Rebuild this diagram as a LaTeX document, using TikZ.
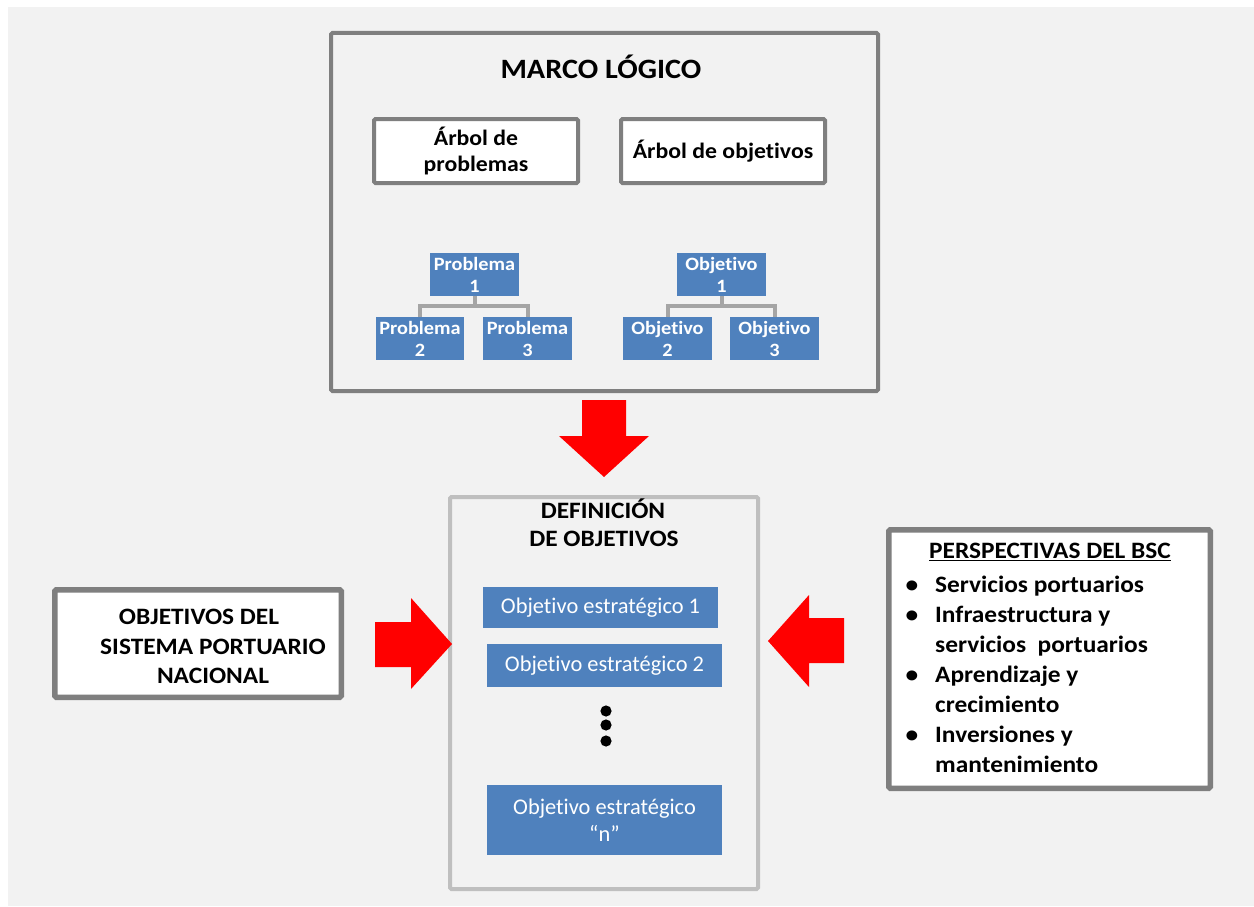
\documentclass[tikz,border=0pt]{standalone}
\usepackage{fontspec}
\setmainfont{Carlito}[Ligatures=NoCommon,BoldFeatures={FakeStretch=1.08}]
\definecolor{pagebg}{HTML}{F2F2F2}
\definecolor{framegray}{HTML}{7F7F7F}
\definecolor{lightframe}{HTML}{BFBFBF}
\definecolor{treegray}{HTML}{A5A5A5}
\definecolor{itemblue}{HTML}{4F81BD}
\definecolor{arrowred}{HTML}{FF0000}
\begin{document}
\begin{tikzpicture}[x=1pt,y=-1pt,
  framebox/.style={draw=framegray,line width=4pt,rounded corners=1.5pt,inner sep=0pt,align=center},
  whitebox/.style={framebox,fill=white},
  bluebox/.style={fill=itemblue,text=white,inner sep=0pt,align=center},
  treebox/.style={bluebox,minimum height=43pt,font=\bfseries\fontsize{18.8}{22}\selectfont},
  goalbox/.style={bluebox,minimum width=235pt,font=\fontsize{22.4}{26.5}\selectfont},
  treeline/.style={draw=treegray,line width=4pt},
  redarrow/.style={fill=arrowred},
  boldtext/.style={font=\bfseries\fontsize{23.5}{29.5}\selectfont,inner sep=0pt,align=center},
]
\useasboundingbox (0,0) rectangle (1254,907);
\fill[pagebg] (8,7) rectangle (1254,906);

% --- Marco lógico ---
\node[framebox,fill=pagebg,minimum width=547pt,minimum height=358pt] (marco) at (604.5,212) {};
\node[font=\bfseries\fontsize{28}{32}\selectfont,inner sep=0pt] (marcotitle) at (601,67) {MARCO LÓGICO};
\node[whitebox,minimum width=204pt,minimum height=64pt,font=\bfseries\fontsize{22}{26}\selectfont] (arbolp) at (476,151) {Árbol de\\problemas};
\node[whitebox,minimum width=204pt,minimum height=64pt,font=\bfseries\fontsize{22}{26}\selectfont] (arbolo) at (723,151) {Árbol de objetivos};

% problem tree
\node[treebox,minimum width=89pt] (p1) at (474.5,274.5) {Problema\\1};
\node[treebox,minimum width=88pt] (p2) at (420,338.5) {Problema\\2};
\node[treebox,minimum width=89pt] (p3) at (527.5,338.5) {Problema\\3};
\draw[treeline] (p1.south) -- ++(0,10) -| (p2.north);
\draw[treeline] (p1.south) -- ++(0,10) -| (p3.north);

% objective tree
\node[treebox,minimum width=89pt] (o1) at (721.5,274.5) {Objetivo\\1};
\node[treebox,minimum width=89pt] (o2) at (667.5,338.5) {Objetivo\\2};
\node[treebox,minimum width=89pt] (o3) at (774.5,338.5) {Objetivo\\3};
\draw[treeline] (o1.south) -- ++(0,10) -| (o2.north);
\draw[treeline] (o1.south) -- ++(0,10) -| (o3.north);

% --- down arrow ---
\fill[redarrow] (582,400) -- (626,400) -- (626,436) -- (649,436) -- (604,477) -- (559,436) -- (582,436) -- cycle;

% --- Definición de objetivos ---
\node[framebox,draw=lightframe,fill=pagebg,minimum width=308pt,minimum height=392pt] (defin) at (604,693) {};
\node[boldtext] (deftitle1) at (603,509) {DEFINICIÓN};
\node[boldtext] (deftitle2) at (604,539) {DE OBJETIVOS};
\node[goalbox,minimum height=41pt] (oe1) at (600.5,607.5) {Objetivo estratégico 1};
\node[goalbox,minimum height=43pt] (oe2) at (604.5,665.5) {Objetivo estratégico 2};
\foreach \yy in {711,725,741}
  \fill (606,\yy) circle[radius=5.6pt];
\node[goalbox,minimum height=70pt] (oen) at (604.5,820) {Objetivo estratégico\\“n”};

% --- Objetivos del sistema portuario nacional ---
\node[whitebox,line width=5.5pt,minimum width=286.5pt,minimum height=107.5pt] (spn) at (198,643.5) {};
\node[boldtext] (spntext) at (213,646.5) {OBJETIVOS DEL\hspace*{28pt}\\SISTEMA PORTUARIO\\NACIONAL};
\fill[redarrow] (375,622) -- (411,622) -- (411,598) -- (452,644) -- (411,689) -- (411,667) -- (375,667) -- cycle;

% --- Perspectivas del BSC ---
\node[whitebox,line width=5.5pt,minimum width=321.5pt,minimum height=258.5pt] (bsc) at (1049.5,659) {};
\fill[redarrow] (844,618) -- (809,618) -- (809,595) -- (768,641) -- (809,687) -- (809,663) -- (844,663) -- cycle;
\node[boldtext] (bsctitle) at (1050,552) {\underline{PERSPECTIVAS DEL BSC}};
\foreach \yy/\txt in {592/Servicios portuarios,
                      622/Infraestructura y,
                      652/servicios\ \ portuarios,
                      682/Aprendizaje y,
                      712/crecimiento,
                      742/Inversiones y,
                      772/mantenimiento}
  \node[boldtext,anchor=base west] at (935,\yy) {\txt};
\foreach \yy in {592,622,682,742}
  \node[boldtext,anchor=base] at (912,\yy) {\textbullet};
\end{tikzpicture}
\end{document}
